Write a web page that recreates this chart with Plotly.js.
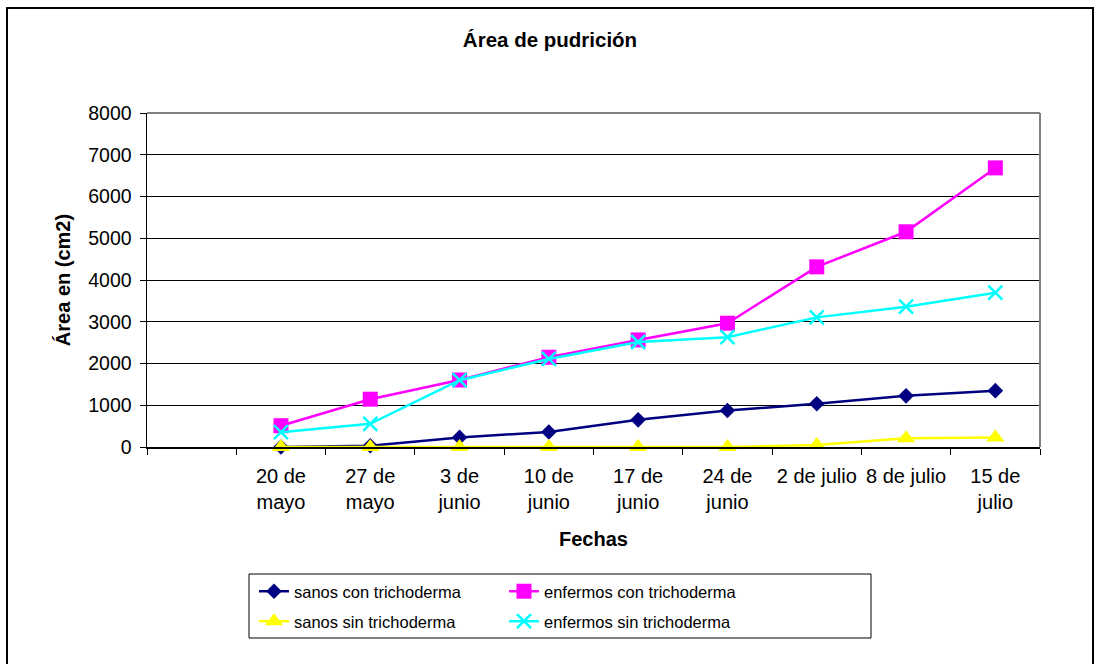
<!DOCTYPE html>
<html>
<head>
<meta charset="utf-8">
<script src="https://cdn.plot.ly/plotly-3.0.1.min.js"></script>
<style>
  html, body { margin: 0; padding: 0; background: #fff; }
  #wrap { position: relative; width: 1096px; height: 664px; overflow: hidden; }
  #chart { position: absolute; left: 0; top: 0; width: 1096px; height: 664px; }
  #frame { position: absolute; left: 6px; top: 7px; width: 1088px; height: 662px; border: 2px solid #000; box-sizing: border-box; pointer-events: none; }
</style>
</head>
<body>
<div id="wrap">
  <div id="chart"></div>
  <div id="frame"></div>
</div>
<script>
// categories (first slot is empty in the original chart)
const allCategories = [" ", "20 de<br>mayo", "27 de<br>mayo", "3 de<br>junio", "10 de<br>junio",
  "17 de<br>junio", "24 de<br>junio", "2 de julio", "8 de julio", "15 de<br>julio"];
const fechas = allCategories.slice(1);

const sanosCon    = [0, 30, 230, 360, 650, 875, 1035, 1225, 1350];
const enfermosCon = [510, 1145, 1605, 2150, 2565, 2965, 4315, 5155, 6685];
const sanosSin    = [0, 0, 0, 0, 0, 0, 50, 210, 230];
const enfermosSin = [355, 555, 1600, 2110, 2515, 2630, 3105, 3360, 3695];

const yTicks = [0, 1000, 2000, 3000, 4000, 5000, 6000, 7000, 8000];

const FONT = "Liberation Sans, Arial, sans-serif";

function series(name, y, color, symbol, size, legendId) {
  return {
    type: "scatter", mode: "lines+markers", name: name,
    x: fechas, y: y, legend: legendId,
    line: { color: color, width: 2.5 },
    marker: { color: color, symbol: symbol, size: size, line: { color: color, width: symbol === "x-thin" ? 2.5 : 0 } },
    cliponaxis: false
  };
}

const data = [
  series("sanos con trichoderma", sanosCon, "#000080", "diamond", 12, "legend"),
  series("enfermos con trichoderma", enfermosCon, "#FF00FF", "square", 15, "legend"),
  series("sanos sin trichoderma", sanosSin, "#FFFF00", "triangle-up", 16, "legend2"),
  series("enfermos sin trichoderma", enfermosSin, "#00FFFF", "x-thin", 14, "legend2")
];

// plot area in pixels: x 147..1040, y 113..447
const PL = 147, PR = 1040, PT = 113, PB = 447;
const px = v => (v - PL) / (PR - PL);
const py = v => (PB - v) / (PB - PT);

const legendCommon = {
  orientation: "h", xanchor: "left", yanchor: "top",
  borderwidth: 0, bgcolor: "rgba(0,0,0,0)",
  font: { size: 16.5, family: FONT, color: "#000" },
  entrywidth: 205, entrywidthmode: "pixels", traceorder: "normal", itemclick: false
};

const layout = {
  width: 1096, height: 664,
  margin: { l: PL, r: 1096 - PR, t: PT, b: 664 - PB },
  paper_bgcolor: "#fff", plot_bgcolor: "#fff",
  font: { family: FONT, color: "#000" },
  showlegend: true,
  title: { text: "<b>Área de pudrición</b>", font: { size: 20.5, family: FONT, color: "#000" },
           x: 550 / 1096, xanchor: "center", xref: "container", y: 1 - 40 / 664, yanchor: "middle", yref: "container" },
  xaxis: {
    type: "category", categoryorder: "array", categoryarray: allCategories,
    range: [-0.5, allCategories.length - 0.5],
    tickson: "boundaries", ticks: "outside", ticklen: 6, tickcolor: "#000", tickwidth: 1,
    showline: true, linecolor: "#000", linewidth: 1.5, showgrid: false, zeroline: false,
    tickfont: { size: 20, family: FONT, color: "#000" }, ticklabelstandoff: 10,
    title: { text: "<b>Fechas</b>", font: { size: 20, family: FONT, color: "#000" }, standoff: 20 },
    fixedrange: true
  },
  yaxis: {
    range: [0, 8000], tickmode: "array", tickvals: yTicks, ticktext: yTicks.map(String),
    ticks: "outside", ticklen: 6, tickcolor: "#000", tickwidth: 1,
    showline: true, linecolor: "#000", linewidth: 1.5,
    showgrid: true, gridcolor: "#000", gridwidth: 1, zeroline: false,
    tickfont: { size: 19.5, family: FONT, color: "#000" }, ticklabelstandoff: 4,
    title: { text: "<b>Área en (cm2)</b>", font: { size: 20, family: FONT, color: "#000" }, standoff: 12 },
    fixedrange: true
  },
  legend: Object.assign({}, legendCommon, { x: px(254), y: py(574) }),
  legend2: Object.assign({}, legendCommon, { x: px(254), y: py(604) }),
  shapes: [
    { type: "line", xref: "paper", yref: "paper", x0: 0, x1: 1, y0: 1, y1: 1, line: { color: "#808080", width: 2 }, layer: "above" },
    { type: "line", xref: "paper", yref: "paper", x0: 1, x1: 1, y0: 0, y1: 1, line: { color: "#808080", width: 2 }, layer: "above" },
    { type: "rect", xref: "paper", yref: "paper", x0: px(249), x1: px(871), y0: py(638), y1: py(574),
      line: { color: "#000", width: 1 }, fillcolor: "rgba(0,0,0,0)", layer: "above" }
  ]
};

Plotly.newPlot("chart", data, layout, { displayModeBar: false, staticPlot: true });
</script>
</body>
</html>
